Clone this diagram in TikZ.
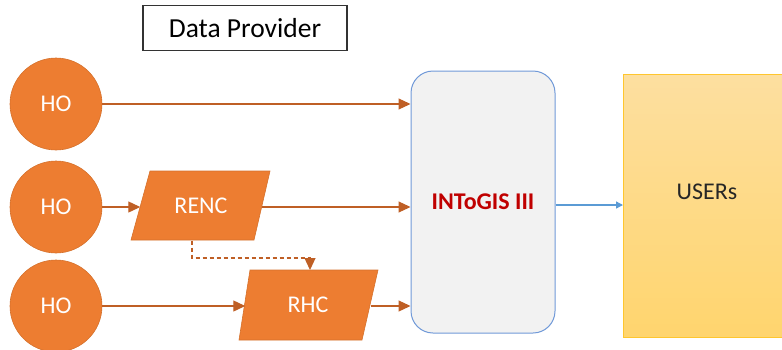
\documentclass[tikz,border=0pt]{standalone}
\usepackage{fontspec}
\setmainfont{Carlito}
\usetikzlibrary{arrows.meta}
\definecolor{ho}{HTML}{ED7D31}
\definecolor{arr}{HTML}{BF5F25}
\definecolor{gisfill}{HTML}{F2F2F2}
\definecolor{gisline}{HTML}{7099D8}
\definecolor{gistext}{HTML}{C00000}
\definecolor{userA}{HTML}{FDDFA0}
\definecolor{userB}{HTML}{FFD56E}
\definecolor{userline}{HTML}{FFC62E}
\definecolor{blu}{HTML}{5B9BD5}
\tikzset{
  hocircle/.style={circle, fill=ho, draw=ho!90!black, line width=0.6pt, minimum size=92pt, inner sep=0pt, text=white, font=\fontsize{24}{24}\selectfont},
  para/.style={rectangle, minimum width=121pt, minimum height=69pt, inner sep=0pt, text=white, font=\fontsize{24}{24}\selectfont},
  parashape/.style={fill=ho, draw=ho!90!black, line width=0.6pt},
  flow/.style={draw=arr, line width=1.2pt, -{Triangle[length=12pt,width=11pt]}},
}
\begin{document}
\begin{tikzpicture}[x=1pt,y=-1pt]
\useasboundingbox (0,0) rectangle (782,349);
% Data provider label
\node[draw=black!80, line width=1.1pt, minimum width=204pt, minimum height=45pt, inner sep=0pt, font=\fontsize{27.5}{27.5}\selectfont] (dp) at (245,28) {Data Provider};
% HO circles
\node[hocircle] (ho1) at (56,104) {HO};
\node[hocircle] (ho2) at (56,207) {HO};
\node[hocircle] (ho3) at (56,306) {HO};
% parallelograms
\path[parashape] (131,240) -- (150,171) -- (270,171) -- (254,240) -- cycle;
\node[para] (renc) at (201,206) {RENC};
\path[parashape] (239,340) -- (250,270) -- (378,270) -- (362,340) -- cycle;
\node[para, minimum width=125pt] (rhc) at (308,305) {RHC};
% INToGIS
\node[rounded corners=22pt, fill=gisfill, draw=gisline, line width=1pt, minimum width=144pt, minimum height=262pt, inner sep=0pt, text=gistext, font=\bfseries\fontsize{24}{24}\selectfont] (gis) at (483,202) {INToGIS III};
% USERs
\shade[top color=userA, bottom color=userB, draw=userline, line width=1pt] (623,74) rectangle (790,337);
\node[font=\fontsize{24}{24}\selectfont, text=black!85] (users) at (707,192) {USERs};
\coordinate (uin) at (623,205);
% arrows
\draw[flow] (ho1.east) -- (ho1.east -| gis.west);
\draw[flow] (ho2.east) -- (ho2.east -| renc.west);
\draw[flow] (renc.east |- ho2.east) -- (ho2.east -| gis.west);
\draw[flow] (ho3.east) -- (ho3.east -| rhc.west);
\draw[flow] (rhc.east |- ho3.east) -- (ho3.east -| gis.west);
\coordinate (d1) at (192,240.5);
\coordinate (d2) at (310,270);
\draw[flow, dashed, dash pattern=on 4pt off 3pt] (d1) |- (d2 |- 0,258) -- (d2);
\draw[draw=blu, line width=1.3pt, -{Triangle[length=7pt,width=7pt]}] (gis.east |- uin) -- (uin);
\end{tikzpicture}
\end{document}
